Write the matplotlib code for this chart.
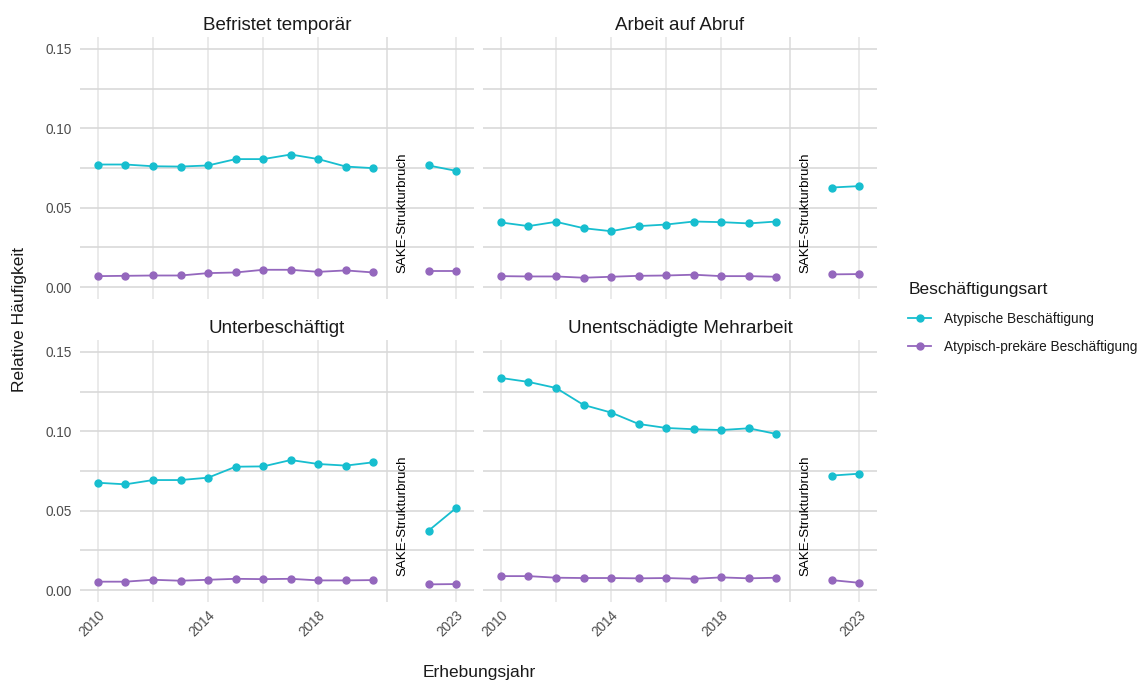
import matplotlib
matplotlib.use("Agg")
import matplotlib.pyplot as plt
from matplotlib.lines import Line2D

plt.rcParams['font.family'] = ['Liberation Sans', 'DejaVu Sans']

years_pre = [2010, 2011, 2012, 2013, 2014, 2015, 2016, 2017, 2018, 2019, 2020]
years_post = [2022, 2023]

panels = ["Befristet temporär", "Arbeit auf Abruf", "Unterbeschäftigt", "Unentschädigte Mehrarbeit"]
series_names = ["Atypische Beschäftigung", "Atypisch-prekäre Beschäftigung"]
colors = ["#17becf", "#9467bd"]

atyp_pre = {
    "Befristet temporär": [0.0772, 0.0772, 0.0761, 0.0759, 0.0766, 0.0806, 0.0806, 0.0835, 0.0806, 0.0759, 0.0749],
    "Arbeit auf Abruf": [0.0407, 0.0384, 0.0411, 0.0371, 0.0352, 0.0384, 0.0394, 0.0413, 0.0409, 0.0401, 0.0413],
    "Unterbeschäftigt": [0.0676, 0.0666, 0.0693, 0.0693, 0.0708, 0.0777, 0.0779, 0.0819, 0.0794, 0.0784, 0.0805],
    "Unentschädigte Mehrarbeit": [0.1336, 0.1311, 0.1273, 0.1166, 0.1118, 0.1046, 0.1021, 0.1013, 0.1008, 0.1019, 0.0983],
}
atyp_post = {
    "Befristet temporär": [0.0766, 0.0732],
    "Arbeit auf Abruf": [0.0627, 0.0636],
    "Unterbeschäftigt": [0.0374, 0.0517],
    "Unentschädigte Mehrarbeit": [0.0721, 0.0733],
}
prek_pre = {
    "Befristet temporär": [0.0069, 0.0071, 0.0073, 0.0073, 0.0088, 0.0092, 0.0109, 0.0109, 0.0096, 0.0105, 0.0092],
    "Arbeit auf Abruf": [0.0069, 0.0067, 0.0067, 0.0059, 0.0065, 0.0071, 0.0073, 0.0078, 0.0069, 0.0069, 0.0065],
    "Unterbeschäftigt": [0.0053, 0.0053, 0.0065, 0.0059, 0.0065, 0.0071, 0.0069, 0.0071, 0.0061, 0.0061, 0.0063],
    "Unentschädigte Mehrarbeit": [0.0088, 0.0088, 0.0078, 0.0076, 0.0076, 0.0074, 0.0076, 0.0071, 0.0080, 0.0074, 0.0078],
}
prek_post = {
    "Befristet temporär": [0.0101, 0.0101],
    "Arbeit auf Abruf": [0.0080, 0.0082],
    "Unterbeschäftigt": [0.0036, 0.0038],
    "Unentschädigte Mehrarbeit": [0.0063, 0.0046],
}

x_breaks = [2010, 2014, 2018, 2023]
x_minor = [2012, 2016, 2020.5]
y_breaks = [0.0, 0.05, 0.10, 0.15]
y_minor = [0.025, 0.075, 0.125]
break_year = 2020.5
break_label = "SAKE-Strukturbruch"

W, H = 1144, 682
fig = plt.figure(figsize=(W / 100, H / 100), dpi=100)

lefts = [80, 483]
tops = [37, 340]
pw, ph = 394, 262

text_col = "#1a1a1a"
tick_col = "#4d4d4d"

for i, name in enumerate(panels):
    r, c = divmod(i, 2)
    ax = fig.add_axes([lefts[c] / W, 1 - (tops[r] + ph) / H, pw / W, ph / H])
    ax.set_xlim(2009.35, 2023.65)
    ax.set_ylim(-0.0075, 0.1575)
    for s in ax.spines.values():
        s.set_visible(False)
    ax.set_xticks(x_breaks)
    ax.set_xticks(x_minor, minor=True)
    ax.set_yticks(y_breaks)
    ax.set_yticks(y_minor, minor=True)
    ax.grid(True, axis='x', which='both', color='#e6e6e6', lw=1.2, zorder=0)
    ax.grid(True, axis='y', which='both', color='#d9d9d9', lw=1.2, zorder=0)
    ax.tick_params(which='both', length=0)
    ax.axvline(break_year, color='#cfcfcf', lw=1.2, zorder=1)
    ax.text(break_year + 0.55, 0.009, break_label, rotation=90, ha='center', va='bottom',
            fontsize=9.6, color='black')

    for vals_pre, vals_post, col in [(atyp_pre, atyp_post, colors[0]), (prek_pre, prek_post, colors[1])]:
        ax.plot(years_pre, vals_pre[name], color=col, lw=1.3, marker='o', ms=5, zorder=3)
        ax.plot(years_post, vals_post[name], color=col, lw=1.3, marker='o', ms=5, zorder=3)

    ax.set_title(name, fontsize=13.5, color=text_col, pad=5)

    if c == 0:
        ax.set_yticklabels([f"{v:.2f}" for v in y_breaks], fontsize=9.8, color=tick_col)
        ax.tick_params(axis='y', pad=6)
    else:
        ax.set_yticklabels([])
    if r == 1:
        ax.set_xticklabels([str(v) for v in x_breaks], fontsize=9.8, color=tick_col,
                           rotation=45, ha='right', va='top', rotation_mode='anchor')
        ax.tick_params(axis='x', pad=4)
    else:
        ax.set_xticklabels([])

fig.text(479 / W, 1 - 672 / H, "Erhebungsjahr", ha='center', va='center', fontsize=12.5, color=text_col)
fig.text(20 / W, 1 - 320 / H, "Relative Häufigkeit", ha='center', va='center', rotation=90,
         fontsize=12.5, color=text_col)

handles = [Line2D([0], [0], color=col, lw=1.3, marker='o', ms=5) for col in colors]
leg = fig.legend(handles, series_names, loc='upper left', bbox_to_anchor=(896 / W, 1 - 270 / H),
                 frameon=False, title="Beschäftigungsart", title_fontsize=12.5, fontsize=9.8,
                 handlelength=1.7, handletextpad=0.9, labelspacing=1.05)
leg._legend_box.align = "left"
leg.get_title().set_color(text_col)
for t in leg.get_texts():
    t.set_color(text_col)

fig.savefig("out.png", dpi=100, facecolor='white')
